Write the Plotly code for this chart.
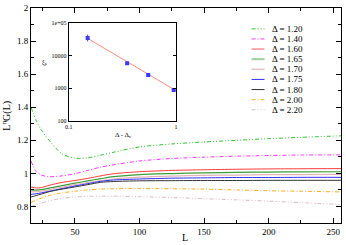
import plotly.graph_objects as go

# ---------------- data ----------------
L_vals = [16, 20, 24, 30, 40, 50, 60, 70, 80, 100, 125, 150, 175, 200, 225, 256]

delta_labels = ["1.20", "1.40", "1.60", "1.65", "1.70", "1.75", "1.80", "2.00", "2.20"]

g_120 = [1.400, 1.320, 1.262, 1.200, 1.118, 1.092, 1.094, 1.110, 1.128, 1.160, 1.178, 1.190, 1.200, 1.210, 1.218, 1.227]
g_140 = [1.075, 1.012, 0.990, 0.980, 0.985, 0.998, 1.018, 1.038, 1.052, 1.075, 1.090, 1.098, 1.104, 1.108, 1.111, 1.112]
g_160 = [0.917, 0.912, 0.914, 0.928, 0.945, 0.957, 0.970, 0.985, 0.998, 1.010, 1.018, 1.022, 1.025, 1.027, 1.028, 1.029]
g_165 = [0.900, 0.899, 0.902, 0.911, 0.926, 0.941, 0.955, 0.968, 0.980, 0.993, 0.999, 1.003, 1.006, 1.008, 1.009, 1.010]
g_170 = [0.888, 0.889, 0.893, 0.902, 0.917, 0.932, 0.945, 0.957, 0.966, 0.977, 0.984, 0.988, 0.990, 0.992, 0.993, 0.994]
g_175 = [0.873, 0.877, 0.882, 0.892, 0.908, 0.924, 0.938, 0.952, 0.960, 0.966, 0.971, 0.973, 0.975, 0.975, 0.976, 0.976]
g_180 = [0.857, 0.866, 0.875, 0.889, 0.905, 0.918, 0.932, 0.946, 0.951, 0.955, 0.956, 0.957, 0.957, 0.958, 0.958, 0.958]
g_200 = [0.825, 0.838, 0.850, 0.866, 0.882, 0.892, 0.900, 0.905, 0.907, 0.908, 0.907, 0.905, 0.900, 0.895, 0.892, 0.888]
g_220 = [0.798, 0.810, 0.820, 0.834, 0.849, 0.857, 0.861, 0.862, 0.862, 0.859, 0.854, 0.847, 0.840, 0.832, 0.823, 0.812]

series_values = [g_120, g_140, g_160, g_165, g_170, g_175, g_180, g_200, g_220]

# inset data
inset_x = [0.15, 0.35, 0.55, 0.95]
inset_y = [35000, 5850, 2530, 880]
inset_err_plus = [9600, 150, 80, 40]
inset_err_minus = [7500, 150, 80, 40]
fit_x = [0.15, 1.0]
fit_y = [34000, 830]

main_xticks = [50, 100, 150, 200, 250]
inset_xticks = [0.1, 1]
inset_xtick_text = ["0.1", "1"]
inset_yticks = [100, 1000, 10000, 100000]
inset_ytick_text = ["100", "1000", "10000", "1e+05"]

# ---------------- styles ----------------
colors = ["#2fc42f", "#ff33ff", "#ff3b3b", "#3a9f3a", "#e0b4b4",
          "#3030ff", "#333333", "#ffae1e", "#d9bcc6"]
dashes = ["4px,2px,1px,2px,1px,2px", "4px,2px,1px,2px", "solid", "solid", "solid",
          "solid", "solid", "4px,2px,1px,2px", "4px,2px,1px,2px,1px,2px"]
widths = [1, 1, 1, 1.2, 1.2, 1, 1, 1, 1]
legend_colors = ["#2fc42f", "#ff33ff", "#ff7070", "#9fd09f", "#e0c4c4",
                 "#3030ff", "#333333", "#ffae1e", "#d9bcc6"]
legend_widths = [1, 1, 1.2, 2, 1.5, 1, 1, 1, 1]

FONT = "Liberation Serif"

fig = go.Figure()

for lab, vals, c, d, w in zip(delta_labels, series_values, colors, dashes, widths):
    fig.add_trace(go.Scatter(
        x=L_vals, y=vals, mode="lines", name="Δ = " + lab,
        line=dict(color=c, dash=d, width=w, shape="spline", smoothing=0.8),
        showlegend=False, xaxis="x", yaxis="y"))

# inset
fig.add_trace(go.Scatter(
    x=fit_x, y=fit_y, mode="lines", line=dict(color="#ff8a80", width=1),
    showlegend=False, xaxis="x2", yaxis="y2"))
fig.add_trace(go.Scatter(
    x=inset_x, y=inset_y, mode="markers",
    marker=dict(symbol="square", size=4, color="#3a3aff"),
    error_y=dict(type="data", array=inset_err_plus, arrayminus=inset_err_minus,
                 color="#3a3aff", thickness=1, width=0),
    showlegend=False, xaxis="x2", yaxis="y2"))

# ---------------- layout ----------------
PL, PR, PT, PB = 31, 343, 4.5, 223.3
W, H = 346, 245

def px2paper_x(px):
    return (px - PL) / (PR - PL)

def px2paper_y(py):
    return (PB - py) / (PB - PT)

axis_common = dict(showline=True, linecolor="black", linewidth=1, mirror="ticks",
                   ticks="inside", tickcolor="black", showgrid=False, zeroline=False,
                   tickfont=dict(family=FONT, size=9, color="black"))

fig.update_layout(
    width=W, height=H, autosize=False,
    margin=dict(l=PL, r=W - PR, t=PT, b=H - PB, pad=0),
    paper_bgcolor="white", plot_bgcolor="white",
    font=dict(family=FONT, color="black"),
    xaxis=dict(range=[16, 256], tickvals=main_xticks, ticklen=5,
               minor=dict(dtick=25, tick0=0, ticklen=3, ticks="inside", tickcolor="black"),
               **axis_common),
    yaxis=dict(range=[0.7, 2.0], tick0=0, dtick=0.2, ticklen=5,
               minor=dict(dtick=0.1, tick0=0, ticklen=3, ticks="inside", tickcolor="black"),
               **axis_common),
    xaxis2=dict(type="log", range=[-1, 0], domain=[px2paper_x(69), px2paper_x(177)],
                anchor="y2", tickvals=inset_xticks, ticktext=inset_xtick_text,
                showline=True, linecolor="black", linewidth=1, mirror="ticks",
                ticks="inside", ticklen=3, tickcolor="black", showgrid=False,
                tickfont=dict(family=FONT, size=6, color="black")),
    yaxis2=dict(type="log", range=[2, 5], domain=[px2paper_y(119), px2paper_y(20)],
                anchor="x2", tickvals=inset_yticks, ticktext=inset_ytick_text,
                showline=True, linecolor="black", linewidth=1, mirror="ticks",
                ticks="inside", ticklen=3, tickcolor="black", showgrid=False,
                tickfont=dict(family=FONT, size=6, color="black")),
)

annotations = [
    dict(text="L", x=px2paper_x(186), y=px2paper_y(238), xref="paper", yref="paper",
         xanchor="center", yanchor="middle",
         showarrow=False, font=dict(family=FONT, size=10)),
    dict(text="L<sup>η</sup>G(L)", x=px2paper_x(6), y=0.5, xref="paper", yref="paper",
         xanchor="center", yanchor="middle",
         textangle=-90, showarrow=False, font=dict(family=FONT, size=10)),
    dict(text="Δ - Δ<sub>c</sub>", x=px2paper_x(124), y=px2paper_y(134), xref="paper",
         yref="paper", xanchor="center", yanchor="middle",
         showarrow=False, font=dict(family=FONT, size=7)),
    dict(text="ξ<sub>ρ</sub>", x=px2paper_x(45), y=px2paper_y(60), xref="paper",
         yref="paper", xanchor="center", yanchor="middle",
         showarrow=False, font=dict(family=FONT, size=6)),
]
shapes = []

# manual legend
for i, (lab, c, d, w) in enumerate(zip(delta_labels, legend_colors, dashes, legend_widths)):
    py = 25.7 + 10.3 * i
    yy = px2paper_y(py)
    shapes.append(dict(type="line", xref="paper", yref="paper",
                       x0=px2paper_x(253), x1=px2paper_x(266), y0=yy, y1=yy,
                       line=dict(color=c, dash=d, width=w)))
    annotations.append(dict(text="Δ = " + lab, x=px2paper_x(272), y=yy,
                            xref="paper", yref="paper", xanchor="left", yanchor="middle",
                            showarrow=False, font=dict(family=FONT, size=9)))

fig.update_layout(annotations=annotations, shapes=shapes)

fig.write_html("out.html", config={"displayModeBar": False},
               post_script="document.body.style.margin='0';document.body.style.padding='0';")
